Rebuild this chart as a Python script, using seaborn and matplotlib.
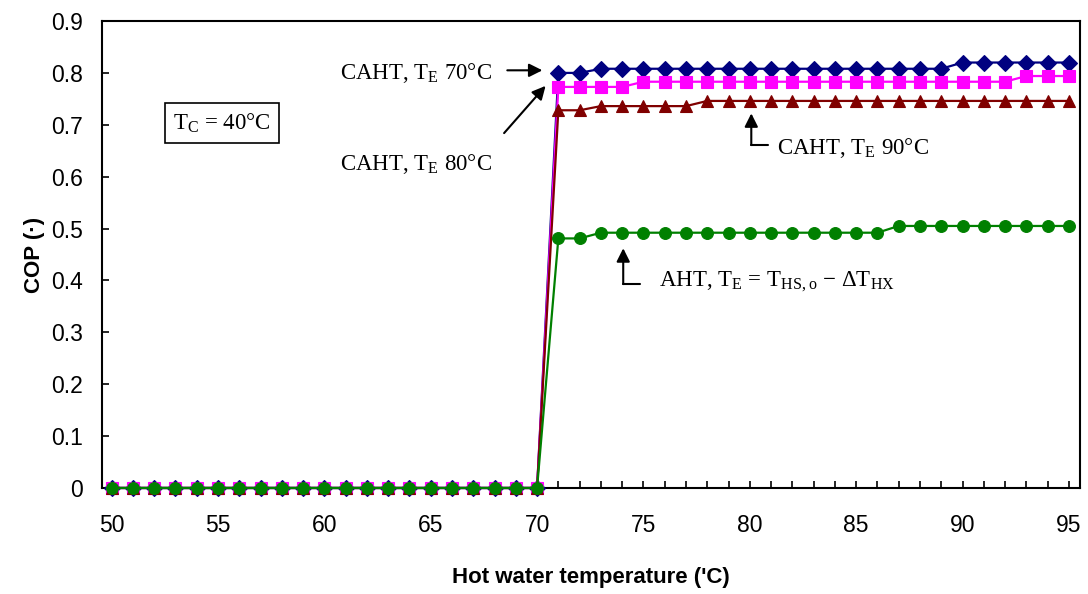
import matplotlib
matplotlib.use("Agg")
import matplotlib.pyplot as plt
import matplotlib.ticker as mticker
import seaborn as sns

# ---------------- data ----------------
temps = [50, 51, 52, 53, 54, 55, 56, 57, 58, 59, 60, 61, 62, 63, 64, 65, 66, 67, 68, 69, 70,
         71, 72, 73, 74, 75, 76, 77, 78, 79, 80, 81, 82, 83, 84, 85, 86, 87, 88, 89, 90,
         91, 92, 93, 94, 95]

zeros_50_70 = [0.0] * 21

cop_caht70 = zeros_50_70 + [0.800, 0.800,
                            0.808, 0.808, 0.808, 0.808, 0.808, 0.808, 0.808, 0.808, 0.808,
                            0.808, 0.808, 0.808, 0.808, 0.808, 0.808, 0.808, 0.808,
                            0.820, 0.820, 0.820, 0.820, 0.820, 0.820]
cop_caht80 = zeros_50_70 + [0.773, 0.773, 0.773, 0.773,
                            0.783, 0.783, 0.783, 0.783, 0.783, 0.783, 0.783, 0.783, 0.783,
                            0.783, 0.783, 0.783, 0.783, 0.783, 0.783, 0.783, 0.783, 0.783,
                            0.794, 0.794, 0.794]
cop_caht90 = zeros_50_70 + [0.728, 0.728,
                            0.736, 0.736, 0.736, 0.736, 0.736,
                            0.746, 0.746, 0.746, 0.746, 0.746, 0.746, 0.746, 0.746, 0.746,
                            0.746, 0.746, 0.746, 0.746, 0.746, 0.746, 0.746, 0.746, 0.746]
cop_aht = zeros_50_70 + [0.481, 0.481,
                         0.492, 0.492, 0.492, 0.492, 0.492, 0.492, 0.492, 0.492, 0.492,
                         0.492, 0.492, 0.492, 0.492, 0.492,
                         0.505, 0.505, 0.505, 0.505, 0.505, 0.505, 0.505, 0.505, 0.505]

y_ticks = [0, 0.1, 0.2, 0.3, 0.4, 0.5, 0.6, 0.7, 0.8, 0.9]
x_ticks = [50, 55, 60, 65, 70, 75, 80, 85, 90, 95]

# ---------------- style ----------------
sns.set_style("ticks")
plt.rcParams["font.family"] = ["Liberation Sans", "DejaVu Sans"]
plt.rcParams["mathtext.fontset"] = "custom"
plt.rcParams["mathtext.rm"] = "Liberation Serif"
plt.rcParams["text.color"] = "black"
plt.rcParams["axes.labelcolor"] = "black"

fig = plt.figure(figsize=(10.88, 5.94), dpi=100)
ax = fig.add_axes([0.0938, 0.1785, 0.8988, 0.7861])

series = [
    (cop_caht70, "#000080", "D", 8.5),
    (cop_caht80, "#FF00FF", "s", 8.0),
    (cop_caht90, "#800000", "^", 9.0),
    (cop_aht, "#008000", "o", 8.5),
]
for vals, col, mk, ms in series:
    sns.lineplot(x=temps, y=vals, ax=ax, color=col, marker=mk, markersize=ms,
                 markeredgecolor=col, markeredgewidth=0.8, linewidth=1.6,
                 errorbar=None, legend=False, clip_on=False)

ax.set_xlim(49.55, 95.52)
ax.set_ylim(0, 0.9)
ax.set_xticks(x_ticks)
ax.xaxis.set_minor_locator(mticker.MultipleLocator(1))
ax.set_yticks(y_ticks)
ax.yaxis.set_major_formatter(mticker.FuncFormatter(lambda v, p: f"{v:g}"))

ax.tick_params(axis="both", which="both", direction="in", length=5, width=1.2,
               color="black", labelsize=16.5, labelcolor="black")
ax.tick_params(axis="x", which="major", pad=19)
ax.tick_params(axis="y", which="major", pad=14)
for sp in ax.spines.values():
    sp.set_visible(True)
    sp.set_color("black")
    sp.set_linewidth(1.5)
    sp.set_zorder(1)

ax.set_xlabel("Hot water temperature ('C)", fontsize=16, fontweight="bold",
              labelpad=21, color="black")
ax.set_ylabel("COP (\u00b7)", fontsize=16, fontweight="bold", labelpad=4, color="black")

serif = ["Liberation Serif", "DejaVu Serif"]
afs = 16.5
arrow_kw = dict(arrowstyle="-|>", color="black", lw=1.5, mutation_scale=20,
                shrinkA=0, shrinkB=0)

# CAHT 70
ax.text(67.9, 0.80, r"CAHT, T$_\mathregular{E}$ 70°C", family=serif, fontsize=afs,
        ha="right", va="center", color="black")
ax.annotate("", xy=(70.25, 0.805), xytext=(68.6, 0.805), arrowprops=arrow_kw)

# CAHT 80
ax.text(67.9, 0.625, r"CAHT, T$_\mathregular{E}$ 80°C", family=serif, fontsize=afs,
        ha="right", va="center", color="black")
ax.annotate("", xy=(70.4, 0.775), xytext=(68.45, 0.684), arrowprops=arrow_kw)

# CAHT 90 (elbow arrow)
ax.plot([80.85, 80.07], [0.661, 0.661], color="black", lw=1.5)
ax.annotate("", xy=(80.07, 0.722), xytext=(80.07, 0.661), arrowprops=arrow_kw)
ax.text(81.3, 0.655, r"CAHT, T$_\mathregular{E}$ 90°C", family=serif, fontsize=afs,
        ha="left", va="center", color="black")

# AHT (elbow arrow)
ax.plot([74.85, 74.05], [0.393, 0.393], color="black", lw=1.5)
ax.annotate("", xy=(74.05, 0.462), xytext=(74.05, 0.393), arrowprops=arrow_kw)
ax.text(75.75, 0.397,
        r"AHT, T$_\mathregular{E}$ = T$_\mathregular{HS,o}$ − ΔT$_\mathregular{HX}$",
        family=serif, fontsize=afs, ha="left", va="center", color="black")

# Box
ax.text(55.2, 0.703, r"T$_\mathregular{C}$ = 40°C", family=serif, fontsize=afs,
        ha="center", va="center", color="black",
        bbox=dict(boxstyle="square,pad=0.35", facecolor="white", edgecolor="black", lw=1.2))

fig.savefig("out.png", dpi=100)
